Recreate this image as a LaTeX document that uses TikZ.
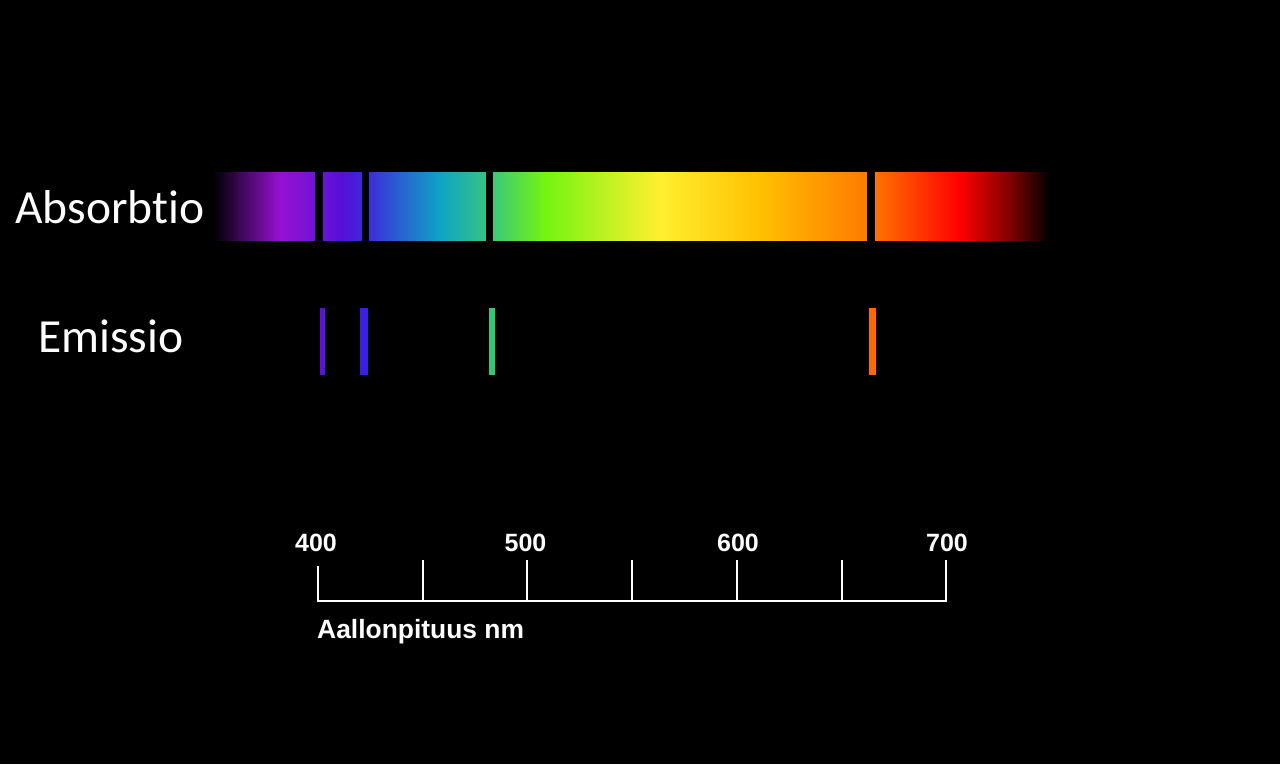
\documentclass[tikz,border=0pt]{standalone}
\usepackage{fontspec}
\newfontfamily\calfont[Ligatures=NoCommon]{Carlito}
\newfontfamily\arialfont{Liberation Sans}
\definecolor{sA}{HTML}{9412D2}
\definecolor{sB}{HTML}{7212D6}
\definecolor{sC}{HTML}{5410D8}
\definecolor{sD}{HTML}{3A2ED8}
\definecolor{sE}{HTML}{0EA4C4}
\definecolor{sF}{HTML}{38C580}
\definecolor{sG}{HTML}{74F412}
\definecolor{sH}{HTML}{FFF030}
\definecolor{sI}{HTML}{FFC000}
\definecolor{sJ}{HTML}{FF7800}
\definecolor{sK}{HTML}{FF0000}
\definecolor{sL}{HTML}{800000}
\definecolor{emA}{HTML}{5A14D8}
\definecolor{emB}{HTML}{3C20E0}
\definecolor{emC}{HTML}{30C870}
\definecolor{emD}{HTML}{FF6A00}
\pgfdeclarehorizontalshading{spectrum}{100bp}{color(0bp)=(black); color(25bp)=(black); color(29bp)=(sA); color(31.15bp)=(sB); color(32.7bp)=(sC); color(34.3bp)=(sD); color(38.56bp)=(sE); color(41.5bp)=(sF); color(44.83bp)=(sG); color(51.7bp)=(sH); color(57.7bp)=(sI); color(64.3bp)=(sJ); color(69.6bp)=(sK); color(72.6bp)=(sL); color(75bp)=(black); color(100bp)=(black)}
\tikzset{
  biglabel/.style={text=white, inner sep=0pt, anchor=base west, font=\calfont\fontsize{47.5}{50}\selectfont},
  numlabel/.style={text=white, inner sep=0pt, anchor=base, font=\arialfont\bfseries\fontsize{25}{28}\selectfont},
  axislabel/.style={text=white, inner sep=0pt, anchor=base west, font=\arialfont\bfseries\fontsize{26.4}{29}\selectfont},
  gap/.style={fill=black, draw=none},
  emline/.style={draw=none},
  axisline/.style={draw=white, line width=2pt},
}
\begin{document}
\begin{tikzpicture}[x=1pt,y=-1pt]
\fill[black] (0,0) rectangle (1280,764);
\useasboundingbox (0,0) rectangle (1280,764);
% labels
\node[biglabel] (abs) at (15,223.3) {Absorbtio};
\node[biglabel] (emi) at (38,352.7) {Emissio};
% spectrum bar
\shade[shading=spectrum] (213,172.7) rectangle (1050,240);
\fill[gap] (315.3,170) rectangle (322.7,243);
\fill[gap] (361.7,170) rectangle (369,243);
\fill[gap] (485.7,170) rectangle (492.7,243);
\fill[gap] (866.7,170) rectangle (875.3,243);
% emission lines
\fill[emline, emA] (320,307.7) rectangle (325.3,375);
\fill[emline, emB] (360,307.7) rectangle (368.3,375);
\fill[emline, emC] (489.3,307.7) rectangle (494.7,375);
\fill[emline, emD] (869.3,307.7) rectangle (876,375);
% axis
\coordinate (a400) at (317.7,600.7);
\coordinate (a700) at (946,600.7);
\draw[axisline] (317.7,565.7) -- (a400) -- (a700) -- (946,560);
\foreach \x in {422.7,527,632,736.7,841.7}
  \draw[axisline] (\x,560) -- (\x,600.7);
\node[numlabel] (n400) at (316,551.7) {400};
\node[numlabel] (n500) at (525.5,551.7) {500};
\node[numlabel] (n600) at (738,551.7) {600};
\node[numlabel] (n700) at (947,551.7) {700};
\node[axislabel] (unit) at (317,638.3) {Aallonpituus nm};
\end{tikzpicture}
\end{document}
